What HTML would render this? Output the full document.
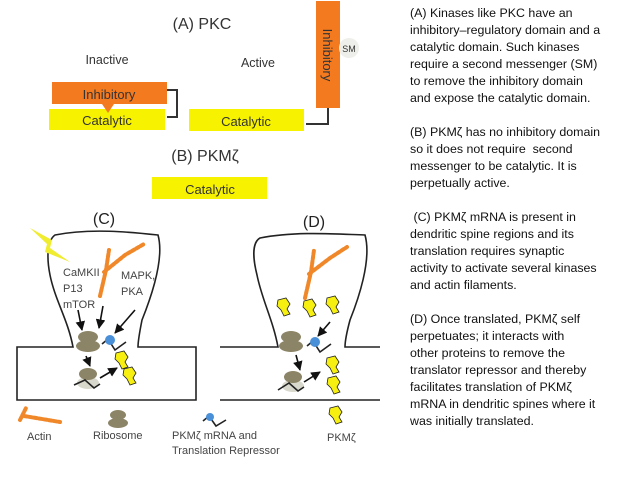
<!DOCTYPE html>
<html><head><meta charset="utf-8"><style>
body{margin:0;width:638px;height:479px;background:#fff;overflow:hidden;font-family:"Liberation Sans",sans-serif}
.t{position:absolute;left:410px;top:5px;font-size:12.4px;line-height:17px;color:#111;white-space:nowrap}
.t p{margin:0 0 17px 0}
</style></head><body>
<svg width="638" height="479" style="position:absolute;left:0;top:0" font-family="Liberation Sans, sans-serif">
<defs><marker id="a" viewBox="0 0 10 10" refX="9" refY="5" markerWidth="6" markerHeight="6" orient="auto"><path d="M0,0L10,5L0,10z" fill="#111"/></marker></defs>
<text x="202" y="29" font-size="16" text-anchor="middle" fill="#333">(A) PKC</text>
<text x="107" y="64" font-size="12.5" text-anchor="middle" fill="#333">Inactive</text>
<text x="258" y="67" font-size="12.5" text-anchor="middle" fill="#333">Active</text>
<rect x="52" y="82" width="115" height="22" fill="#f47a20"/>
<rect x="49" y="109" width="116" height="21" fill="#f6f200"/>
<path d="M102,104 L114,104 L108,113z" fill="#f47a20"/>
<text x="109" y="99" font-size="13" text-anchor="middle" fill="#333">Inhibitory</text>
<text x="107" y="125" font-size="13" text-anchor="middle" fill="#333">Catalytic</text>
<path d="M167,90 H177 V117 H167" fill="none" stroke="#333" stroke-width="2"/>
<rect x="189" y="109" width="115" height="22" fill="#f6f200"/>
<text x="246" y="126" font-size="13" text-anchor="middle" fill="#333">Catalytic</text>
<rect x="316" y="1" width="24" height="107" fill="#f47a20"/>
<text transform="translate(323,55) rotate(90)" font-size="13" text-anchor="middle" fill="#333">Inhibitory</text>
<circle cx="349" cy="48" r="10" fill="#eeeeea"/>
<text x="349" y="52" font-size="9" text-anchor="middle" fill="#333">SM</text>
<path d="M306,124 H328 V108" fill="none" stroke="#333" stroke-width="2"/>
<text x="205" y="161" font-size="16" text-anchor="middle" fill="#333">(B) PKMζ</text>
<rect x="152" y="177" width="115" height="22" fill="#f6f200"/>
<text x="210" y="194" font-size="13" text-anchor="middle" fill="#333">Catalytic</text>
<text x="104" y="224" font-size="16" text-anchor="middle" fill="#222">(C)</text>
<text x="314" y="227" font-size="16" text-anchor="middle" fill="#222">(D)</text>
<g fill="none" stroke="#222" stroke-width="1.6">
<path d="M17,347 H73 C68,320 55,300 50,275 C46,255 48,240 55,235 C90,228 130,232 158,235 C165,260 150,300 142,320 C139,335 138,342 138,347 H196 V400 H17 Z"/>
<path d="M220,347 H278 C273,320 262,300 257,275 C252,255 253,242 260,238 C295,231 335,234 365,235 C372,260 358,300 350,320 C346,335 345,342 345,347 H380 M380,400 H220"/>
</g>
<path d="M30,228 L52,240 L50,248 L70,262 L45,252 L47,244z" fill="#f0ec30"/>
<g stroke="#f0882a" stroke-width="4" stroke-linecap="round" stroke-dasharray="3 2" fill="none">
<path d="M100,296 L106,270 L109,250"/><path d="M104,272 L125,255 L144,244"/>
<path d="M305,298 L311,272 L314,250"/><path d="M309,274 L330,258 L347,247"/>
<path d="M20,420 L26,408"/><path d="M24,416 L60,422"/>
</g>
<g fill="#8c8466">
<ellipse cx="88" cy="337" rx="10" ry="6"/><ellipse cx="88" cy="346" rx="12" ry="6"/>
<ellipse cx="291" cy="337" rx="10" ry="6"/><ellipse cx="291" cy="346" rx="12" ry="6"/>
<ellipse cx="118" cy="415" rx="8" ry="5"/><ellipse cx="118" cy="423" rx="10" ry="5"/>
</g>
<ellipse cx="88" cy="383" rx="11" ry="6" fill="#d8d8cc"/><ellipse cx="88" cy="374" rx="9" ry="6" fill="#8c8466"/>
<ellipse cx="293" cy="386" rx="11" ry="6" fill="#d8d8cc"/><ellipse cx="293" cy="377" rx="9" ry="6" fill="#8c8466"/>
<g stroke="#222" stroke-width="1.6" fill="none">
<path d="M102,344 L108,339 L115,350 L126,342"/>
<path d="M307,346 L313,341 L320,352 L331,344"/>
<path d="M74,385 L85,380 L94,388 L100,384"/>
<path d="M278,390 L289,383 L298,391 L304,387"/>
<path d="M203,421 L209,416 L216,426 L226,420"/>
</g>
<g fill="#4a90d9"><circle cx="110" cy="340" r="5"/><circle cx="315" cy="342" r="5"/><circle cx="210" cy="417" r="4"/></g>
<g stroke="#111" stroke-width="1.6" marker-end="url(#a)">
<line x1="78" y1="310" x2="82" y2="330"/><line x1="103" y1="306" x2="99" y2="328"/><line x1="135" y1="310" x2="115" y2="333"/>
<line x1="86" y1="356" x2="90" y2="366"/><line x1="100" y1="378" x2="117" y2="368"/>
<line x1="330" y1="322" x2="318" y2="336"/><line x1="296" y1="355" x2="300" y2="370"/><line x1="304" y1="382" x2="320" y2="372"/>
</g>
<g fill="#f6ef10" stroke="#222" stroke-width="0.8">
<path transform="translate(116,353)" d="M0,0 L8,-2 L12,4 L9,9 L12,14 L6,16 L3,10 L-1,6z"/>
<path transform="translate(124,369)" d="M0,0 L8,-2 L12,4 L9,9 L12,14 L6,16 L3,10 L-1,6z"/>
<path transform="translate(278,300)" d="M0,0 L8,-2 L12,4 L9,9 L12,14 L6,16 L3,10 L-1,6z"/>
<path transform="translate(304,301)" d="M0,0 L8,-2 L12,4 L9,9 L12,14 L6,16 L3,10 L-1,6z"/>
<path transform="translate(327,298)" d="M0,0 L8,-2 L12,4 L9,9 L12,14 L6,16 L3,10 L-1,6z"/>
<path transform="translate(327,358)" d="M0,0 L8,-2 L12,4 L9,9 L12,14 L6,16 L3,10 L-1,6z"/>
<path transform="translate(328,378)" d="M0,0 L8,-2 L12,4 L9,9 L12,14 L6,16 L3,10 L-1,6z"/>
<path transform="translate(330,408)" d="M0,0 L8,-2 L12,4 L9,9 L12,14 L6,16 L3,10 L-1,6z"/>
</g>
<g font-size="11" fill="#444">
<text x="63" y="276">CaMKII</text><text x="63" y="292">P13</text><text x="63" y="308">mTOR</text>
<text x="121" y="279">MAPK,</text><text x="121" y="295">PKA</text>
<text x="27" y="440">Actin</text><text x="93" y="439">Ribosome</text>
<text x="172" y="439">PKMζ mRNA and</text><text x="172" y="454">Translation Repressor</text>
<text x="327" y="441">PKMζ</text>
</g>
</svg>
<div class="t">
<p>(A) Kinases like PKC have an<br>inhibitory–regulatory domain and a<br>catalytic domain. Such kinases<br>require a second messenger (SM)<br>to remove the inhibitory domain<br>and expose the catalytic domain.</p>
<p>(B) PKMζ has no inhibitory domain<br>so it does not require&nbsp; second<br>messenger to be catalytic. It is<br>perpetually active.</p>
<p>&nbsp;(C) PKMζ mRNA is present in<br>dendritic spine regions and its<br>translation requires synaptic<br>activity to activate several kinases<br>and actin filaments.</p>
<p>(D) Once translated, PKMζ self<br>perpetuates; it interacts with<br>other proteins to remove the<br>translator repressor and thereby<br>facilitates translation of PKMζ<br>mRNA in dendritic spines where it<br>was initially translated.</p>
</div>
</body></html>
